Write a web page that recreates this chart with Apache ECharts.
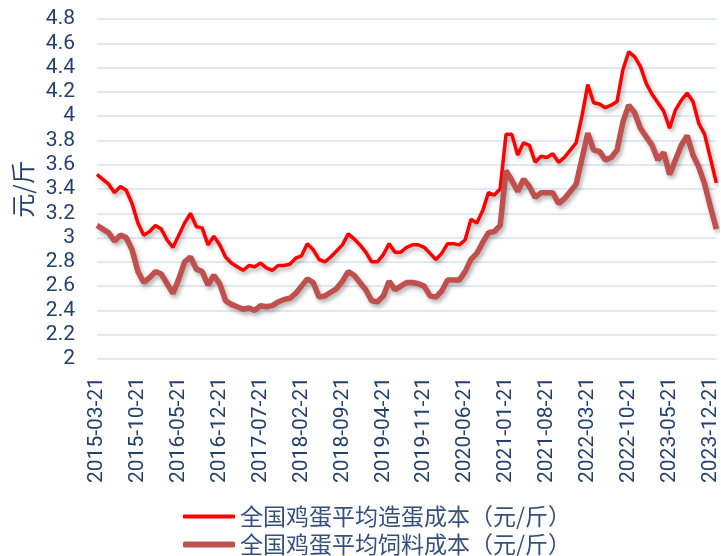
<!DOCTYPE html>
<html>
<head>
<meta charset="utf-8">
<script src="https://cdn.jsdelivr.net/npm/echarts@6/dist/echarts.min.js"></script>
<style>html,body{margin:0;padding:0;background:#fff}#c{width:721px;height:556px}</style>
</head>
<body>
<div id="c"></div>
<script>
// monthly categories 2015-03 .. 2024-01
var startYear = 2015, startMonth = 3, monthCount = 107;
var categories = [];
for (var i = 0; i < monthCount; i++) {
  var t = startMonth - 1 + i;
  var y = startYear + Math.floor(t / 12);
  var m = (t % 12) + 1;
  categories.push(y + '-' + (m < 10 ? '0' + m : m) + '-21');
}
var seriesNames = ['全国鸡蛋平均造蛋成本（元/斤）', '全国鸡蛋平均饲料成本（元/斤）'];
var eggCost = [
  3.52,3.48,3.44,3.37,3.42,3.39,3.28,3.12,3.02,3.05,
  3.10,3.07,2.98,2.92,3.02,3.12,3.20,3.09,3.08,2.94,
  3.01,2.94,2.84,2.79,2.76,2.73,2.77,2.76,2.79,2.75,
  2.73,2.77,2.77,2.78,2.83,2.85,2.95,2.90,2.82,2.80,
  2.84,2.89,2.94,3.03,2.99,2.94,2.88,2.80,2.80,2.86,
  2.95,2.88,2.88,2.92,2.94,2.94,2.92,2.87,2.82,2.87,
  2.95,2.95,2.94,2.98,3.15,3.12,3.22,3.37,3.35,3.40,
  3.85,3.85,3.68,3.78,3.76,3.62,3.67,3.66,3.69,3.62,
  3.66,3.72,3.78,4.00,4.26,4.11,4.10,4.07,4.09,4.12,
  4.38,4.53,4.49,4.41,4.27,4.18,4.11,4.04,3.90,4.05,
  4.13,4.19,4.12,3.94,3.85,3.65,3.45
];
var feedCost = [
  3.10,3.07,3.04,2.97,3.02,3.00,2.90,2.72,2.63,2.67,
  2.72,2.70,2.62,2.54,2.66,2.80,2.84,2.74,2.72,2.61,
  2.69,2.62,2.48,2.45,2.43,2.41,2.42,2.40,2.44,2.43,
  2.44,2.47,2.49,2.50,2.54,2.60,2.66,2.63,2.51,2.52,
  2.55,2.58,2.64,2.72,2.69,2.63,2.57,2.48,2.47,2.52,
  2.64,2.57,2.60,2.63,2.63,2.62,2.60,2.52,2.51,2.56,
  2.65,2.65,2.65,2.72,2.82,2.87,2.96,3.04,3.05,3.10,
  3.55,3.47,3.38,3.48,3.42,3.33,3.37,3.37,3.37,3.28,
  3.32,3.38,3.44,3.65,3.86,3.72,3.71,3.64,3.66,3.72,
  3.95,4.09,4.03,3.90,3.83,3.76,3.64,3.70,3.52,3.64,
  3.76,3.84,3.68,3.58,3.44,3.25,3.07
];
var textColor = '#24406f';
var legendText = {color: '#34507c', fontSize: 23, fontFamily: 'Noto Sans CJK SC'};
var chart = echarts.init(document.getElementById('c'), null, {renderer: 'canvas'});
chart.setOption({
  animation: false,
  backgroundColor: '#fff',
  grid: {left: 97, right: 1, top: 19, bottom: 197, containLabel: false},
  legend: [
    {left: 178, top: 500, itemWidth: 52, itemHeight: 4, icon: 'roundRect', itemGap: 6,
     textStyle: legendText, data: [seriesNames[0]]},
    {left: 178, top: 528, itemWidth: 52, itemHeight: 6, icon: 'roundRect', itemGap: 6,
     textStyle: legendText, data: [seriesNames[1]]}
  ],
  xAxis: {
    type: 'category', data: categories, boundaryGap: false,
    axisLine: {show: false}, axisTick: {show: false},
    axisLabel: {interval: 6, rotate: 90, margin: 18, color: textColor, fontSize: 21, fontFamily: 'Roboto'}
  },
  yAxis: {
    type: 'value', min: 2, max: 4.8, interval: 0.2,
    name: '元/斤', nameLocation: 'middle', nameRotate: 90, nameGap: 62,
    nameTextStyle: {color: textColor, fontSize: 24, fontFamily: 'Noto Sans CJK SC'},
    axisLine: {show: false}, axisTick: {show: false},
    axisLabel: {margin: 22, color: textColor, fontSize: 21, fontFamily: 'Roboto'},
    splitLine: {lineStyle: {color: '#d6e1f0', width: 1.5}}
  },
  series: [
    {
      name: seriesNames[0], type: 'line', data: eggCost, symbol: 'none',
      lineStyle: {color: '#ff0000', width: 3.5, shadowColor: 'rgba(0,0,0,0.3)', shadowBlur: 4, shadowOffsetX: 2, shadowOffsetY: 3},
      itemStyle: {color: '#ff0000'}
    },
    {
      name: seriesNames[1], type: 'line', data: feedCost, symbol: 'none',
      lineStyle: {color: '#c0504d', width: 5.5, shadowColor: 'rgba(0,0,0,0.3)', shadowBlur: 4, shadowOffsetX: 2, shadowOffsetY: 3},
      itemStyle: {color: '#c0504d'}
    }
  ]
});
</script>
</body>
</html>
